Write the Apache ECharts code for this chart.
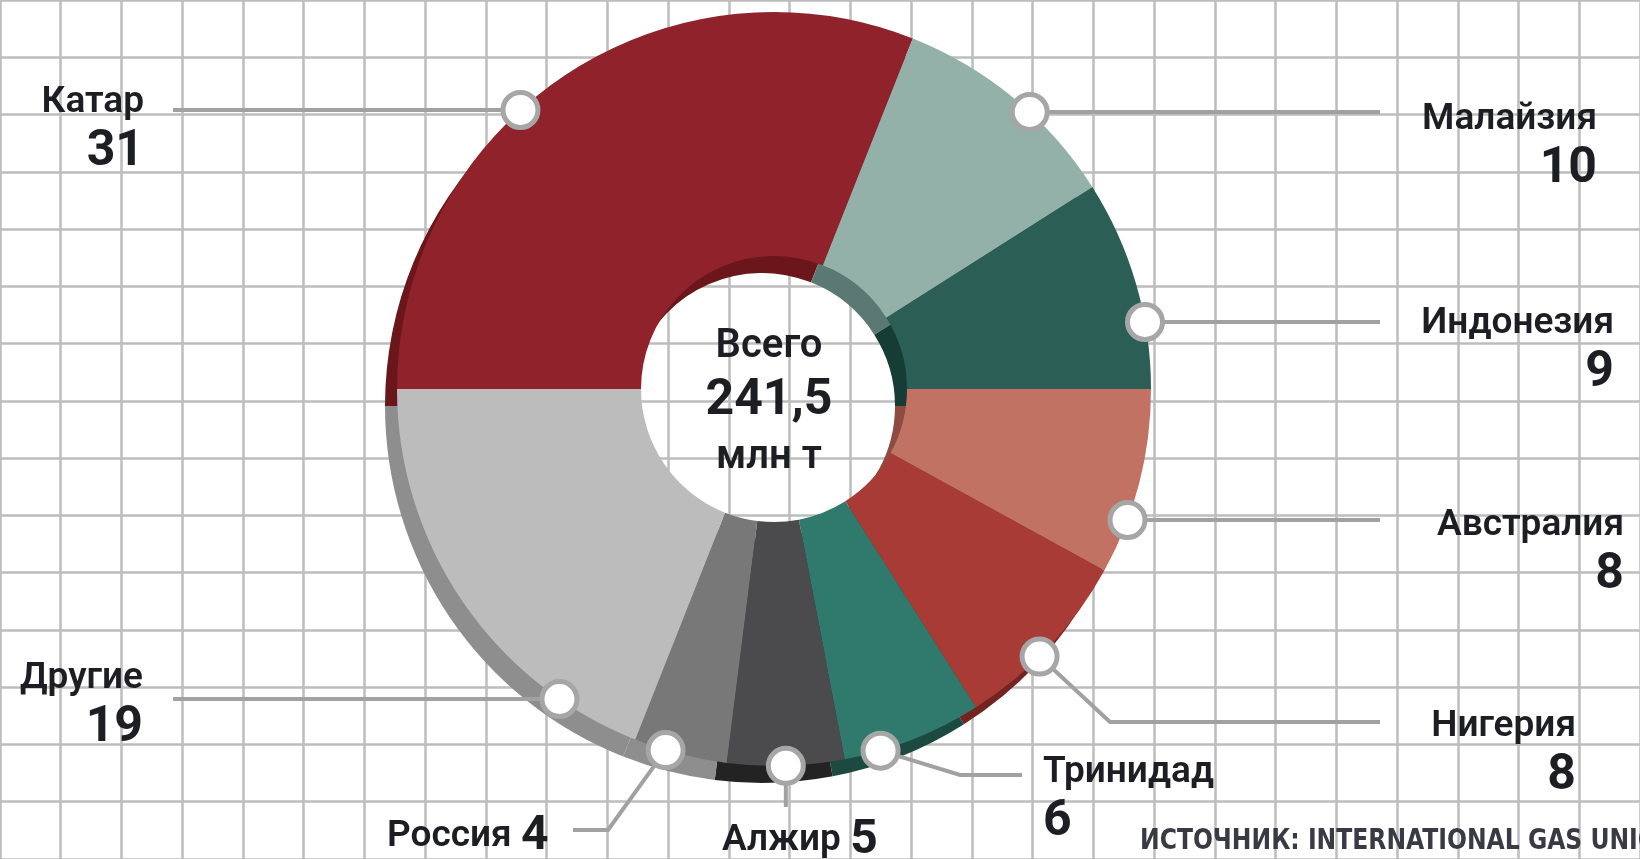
<!DOCTYPE html>
<html><head><meta charset="utf-8">
<script src="https://cdn.jsdelivr.net/npm/echarts@6/dist/echarts.min.js"></script>
<style>html,body{margin:0;padding:0;background:#fff}#c{width:1640px;height:859px}</style>
</head><body><div id="c"></div>
<script>
// ---- data ----
const categories = ['Катар','Малайзия','Индонезия','Австралия','Нигерия','Тринидад','Алжир','Россия','Другие'];
const values = [31, 10, 9, 8, 8, 6, 5, 4, 19];
const centerLines = ['Всего', '241,5', 'млн т'];
const sourceText = 'ИСТОЧНИК: INTERNATIONAL GAS UNION';

// ---- styles ----
const faceColors = ['#8f222a','#93b1a9','#2b5e55','#c17263','#a83b36','#2f7a6c','#4b4a4c','#787878','#bcbcbc'];
const rimColors  = ['#6a161b','#5c7873','#163c36','#8d4b41','#742420','#1c4a41','#232323','#8e8e8e','#8e8e8e'];
const textColor = '#1d1d24';

// ---- layout ----
const W = 1640, H = 859;
const CX = 774, CY = 389, R_OUT = 377, R_IN = 133;
const BACK_DX = -12, BACK_DY = 17;
// frac = position of the leader anchor inside its slice (0 = start, 1 = end)
const labelPlacement = [
  {x:144,  y:81,  align:'right', two:true,  line:'h', ly:110, ex:173},
  {x:1597, y:98,  align:'right', two:true,  line:'h', ly:112, ex:1380},
  {x:1614, y:302, align:'right', two:true,  line:'h', ly:322, ex:1380},
  {x:1624, y:504, align:'right', two:true,  line:'h', ly:520, ex:1380},
  {x:1576, y:705, align:'right', two:true,  line:'e', frac:0.57, bx:1110, by:722, ex:1380},
  {x:1043, y:751, align:'left',  two:true,  line:'e', frac:0.74, bx:960,  by:775, ex:1022},
  {x:722,  y:818, align:'left',  two:false, line:'v', frac:0.5,  ey:807},
  {x:387,  y:814, align:'left',  two:false, line:'e', frac:0.66, bx:608,  by:830, ex:573},
  {x:143,  y:657, align:'right', two:true,  line:'h', ly:699, ex:173}
];

const total = values.reduce((a, b) => a + b, 0);
let cum = 0;
const anchors = values.map((v, i) => {
  const p = labelPlacement[i];
  const frac = (cum + v * (p.frac == null ? 0.5 : p.frac)) / total;
  cum += v;
  if (p.line === 'h') {
    const dy = p.ly - CY;
    const dx = Math.sqrt(R_OUT * R_OUT - dy * dy);
    return [p.ex < CX ? CX - dx : CX + dx, p.ly];
  }
  const th = Math.PI - frac * 2 * Math.PI;
  return [CX + R_OUT * Math.cos(th), CY - R_OUT * Math.sin(th)];
});
const linePts = anchors.map((a, i) => {
  const p = labelPlacement[i];
  if (p.line === 'h') return [a, [(a[0] + p.ex) / 2, p.ly], [p.ex, p.ly]];
  if (p.line === 'v') return [a, [a[0], (a[1] + p.ey) / 2], [a[0], p.ey]];
  return [a, [p.bx, p.by], [p.ex, p.by]];
});

const rich = {
  nr: {fontSize: 37, fontWeight: 600, lineHeight: 44, align: 'right', color: textColor, fontFamily: 'Roboto'},
  vr: {fontSize: 50, fontWeight: 700, lineHeight: 55, align: 'right', color: textColor, fontFamily: 'Roboto'},
  nl: {fontSize: 37, fontWeight: 600, lineHeight: 44, align: 'left', color: textColor, fontFamily: 'Roboto'},
  vl: {fontSize: 50, fontWeight: 700, lineHeight: 55, align: 'left', color: textColor, fontFamily: 'Roboto'},
  s:  {fontSize: 37, fontWeight: 600, lineHeight: 46, color: textColor, fontFamily: 'Roboto'},
  sv: {fontSize: 48, fontWeight: 700, lineHeight: 46, color: textColor, fontFamily: 'Roboto'}
};

function labelText(i) {
  const p = labelPlacement[i];
  if (!p.two) return '{s|' + categories[i] + ' }{sv|' + values[i] + '}';
  const k = p.align === 'right' ? 'r' : 'l';
  return '{n' + k + '|' + categories[i] + '}\n{v' + k + '|' + values[i] + '}';
}

const chart = echarts.init(document.getElementById('c'), null, {renderer: 'canvas'});
const axisOff = {axisLine: {show: false}, axisTick: {show: false}, axisLabel: {show: false}};
chart.setOption({
  animation: false,
  backgroundColor: '#ffffff',
  grid: [
    {left: 35 - 63.6, top: 23.5 - 65.4, width: 63.6 * 27, height: 65.4 * 15, show: false},
    {left: 0, top: 0, width: W, height: H, show: false}
  ],
  xAxis: [
    Object.assign({type: 'value', gridIndex: 0, min: 0, max: 27, interval: 1,
      splitLine: {show: true, lineStyle: {color: '#bdbdbd', width: 2.5}}}, axisOff),
    {type: 'value', gridIndex: 1, min: 0, max: W, show: false}
  ],
  yAxis: [
    Object.assign({type: 'value', gridIndex: 0, min: 0, max: 15, interval: 1,
      splitLine: {show: true, lineStyle: {color: '#bdbdbd', width: 2.5}}}, axisOff),
    {type: 'value', gridIndex: 1, min: 0, max: H, inverse: true, show: false}
  ],
  series: [
    {
      type: 'pie', z: 2, silent: true,
      center: [CX + BACK_DX, CY + BACK_DY], radius: [R_IN, R_OUT],
      startAngle: 180, clockwise: true,
      label: {show: false}, labelLine: {show: false},
      data: categories.map((c, i) => ({name: c, value: values[i], itemStyle: {color: rimColors[i]}}))
    },
    {
      type: 'pie', z: 3, silent: true,
      center: [CX, CY], radius: [R_IN, R_OUT],
      startAngle: 180, clockwise: true, avoidLabelOverlap: false,
      label: {show: true, position: 'outside', rich: rich, color: textColor, fontFamily: 'Roboto'},
      labelLine: {show: true, length: 10, length2: 10, smooth: false, lineStyle: {color: '#a1a1a1', width: 4}},
      labelLayout: function (params) {
        const i = params.dataIndex;
        const p = labelPlacement[i];
        return {x: p.x, y: p.y, align: p.align, verticalAlign: 'top', labelLinePoints: linePts[i]};
      },
      data: categories.map((c, i) => ({
        name: c, value: values[i],
        itemStyle: {color: faceColors[i]},
        label: {formatter: labelText(i)}
      }))
    },
    {
      type: 'scatter', z: 6, silent: true, xAxisIndex: 1, yAxisIndex: 1,
      symbol: 'circle', symbolSize: 35,
      itemStyle: {color: '#ffffff', borderColor: '#a6a6a6', borderWidth: 5, opacity: 1},
      data: anchors
    }
  ],
  graphic: [
    {type: 'text', x: 769, y: 347, z: 10, style: {text: centerLines[0], fill: textColor, font: '600 40px Roboto', align: 'center', verticalAlign: 'middle'}},
    {type: 'text', x: 769, y: 401, z: 10, style: {text: centerLines[1], fill: textColor, font: '700 50px Roboto', align: 'center', verticalAlign: 'middle'}},
    {type: 'text', x: 769, y: 458, z: 10, style: {text: centerLines[2], fill: textColor, font: '600 40px Roboto', align: 'center', verticalAlign: 'middle'}},
    {type: 'text', x: 1140, y: 841, z: 10, scaleX: 0.9, style: {text: sourceText, fill: '#3a3a44', font: 'bold 29px "DejaVu Sans Condensed", sans-serif', align: 'left', verticalAlign: 'middle'}}
  ]
});
</script>
</body></html>
